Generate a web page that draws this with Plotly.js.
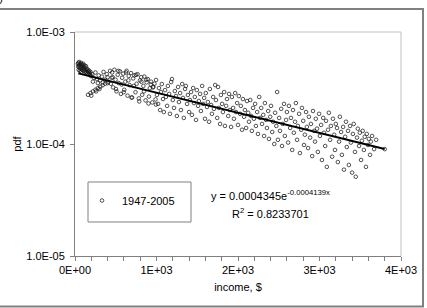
<!DOCTYPE html>
<html><head><meta charset="utf-8">
<script src="https://cdn.plot.ly/plotly-3.0.1.min.js"></script>
<style>html,body{margin:0;padding:0;background:#fff}</style>
</head><body><div id="chart" style="width:427px;height:308px"></div>
<script>
// ---- data (income in $, pdf) ----
const incomeA = [35,40,42,45,48,50,55,58,60,65,68,70,75,78,80,85,88,90,95,100,105,108,112,115,120,125,130,135,140,145,150,155,160,165,170,175,180,185,190,195];
const pdfA = [5.2e-4,4.9e-4,5.3e-4,4.6e-4,5.0e-4,5.4e-4,4.8e-4,5.1e-4,4.5e-4,5.2e-4,4.7e-4,4.95e-4,5.3e-4,4.4e-4,4.85e-4,5.1e-4,4.6e-4,5.0e-4,4.75e-4,5.2e-4,4.5e-4,4.9e-4,4.65e-4,5.05e-4,4.4e-4,4.8e-4,4.55e-4,4.95e-4,4.35e-4,4.7e-4,4.5e-4,4.25e-4,4.6e-4,4.4e-4,4.2e-4,4.5e-4,4.3e-4,4.15e-4,4.4e-4,4.05e-4];

const incomeB1 = [160,190,220,250,280,310,340,370,200,260,300,400,210,230,250,270,290,310,330,350,370,390,410,430,450,220,280,340,400,440];
const pdfB1 = [2.75e-4,2.85e-4,2.95e-4,3.05e-4,3.15e-4,3.25e-4,3.35e-4,3.45e-4,2.7e-4,2.95e-4,3.1e-4,3.5e-4,4.2e-4,3.9e-4,4.35e-4,3.8e-4,4.1e-4,3.7e-4,4.0e-4,4.4e-4,3.75e-4,4.2e-4,3.6e-4,4.5e-4,3.9e-4,3.6e-4,3.5e-4,3.55e-4,3.95e-4,3.45e-4];

const incomeB2 = [455,468,483,497,509,524,536,551,563,578,592,604,617,633,645,659,671,688,701,714,729,742,756,768,783,797,812,824,839,851,866,879,893,907,918,934,948,961,975,988,462,503,531,572,598,626,655,693,721,749,788,815,846,873,902,930,957,993];
const pdfB2 = [4.35e-4,3.2e-4,4.6e-4,3.75e-4,2.95e-4,4.15e-4,3.5e-4,4.45e-4,2.8e-4,3.9e-4,4.25e-4,3.05e-4,3.6e-4,4.5e-4,2.7e-4,4.05e-4,3.35e-4,4.3e-4,2.6e-4,3.85e-4,4.1e-4,2.9e-4,3.45e-4,4.2e-4,2.55e-4,3.7e-4,3.95e-4,2.75e-4,3.3e-4,4.0e-4,2.45e-4,3.55e-4,3.8e-4,2.65e-4,3.15e-4,3.6e-4,2.35e-4,3.25e-4,3.45e-4,2.5e-4,3.95e-4,3.1e-4,4.5e-4,3.4e-4,2.9e-4,4.35e-4,3.7e-4,2.6e-4,3.3e-4,4.15e-4,2.4e-4,3.6e-4,2.95e-4,3.75e-4,2.3e-4,3.4e-4,3.2e-4,2.25e-4];

const incomeC = [995,1005,1020,1030,1045,1055,1065,1080,1090,1105,1115,1130,1140,1155,1165,1180,1190,1200,1215,1225,1240,1250,1265,1275,1290,1300,1315,1325,1335,1350,1360,1375,1385,1400,1410,1425,1435,1450,1460,1470,1485,1495,1510,1520,1535,1545,1560,1570,1585,1595,1605,1620,1630,1645,1655,1670,1680,1695,1705,1720,1730,1745,1755,1765,1780,1790,1805,1815,1830,1840,1855,1865,1880,1890,1900,1915,1925,1940,1950,1965,1975,1990,2000,2010,2025,2035,2050,2060,2075,2085,2100,2110,2125,2135,2150,2160,2170,2185,2195,2210,2220,2235,2245,2260,2270,2285,2295,2310,2320,2330,2345,2355,2370,2380,2395,2405,2420,2430,2445,2455,2470,2480,2490,2505,2515,2530,2540,2550,2565,2575,2590,2600];
const pdfC = [3.73e-4,2.74e-4,2.28e-4,3.16e-4,2.01e-4,2.91e-4,3.43e-4,2.52e-4,1.93e-4,3.03e-4,2.63e-4,2.19e-4,3.30e-4,2.80e-4,1.86e-4,3.58e-4,3.80e-4,2.47e-4,2.10e-4,2.97e-4,2.68e-4,1.78e-4,3.23e-4,2.37e-4,2.85e-4,2.01e-4,3.43e-4,2.58e-4,1.71e-4,3.10e-4,3.30e-4,2.28e-4,2.74e-4,1.93e-4,2.47e-4,2.91e-4,1.82e-4,3.16e-4,2.32e-4,2.63e-4,1.64e-4,3.03e-4,2.19e-4,2.42e-4,2.80e-4,1.97e-4,3.30e-4,2.28e-4,2.58e-4,1.68e-4,2.85e-4,2.14e-4,2.37e-4,1.58e-4,3.10e-4,2.23e-4,1.86e-4,2.63e-4,2.06e-4,3.36e-4,2.47e-4,1.71e-4,3.23e-4,2.10e-4,1.51e-4,2.74e-4,2.28e-4,1.93e-4,2.91e-4,1.45e-4,2.19e-4,2.52e-4,1.78e-4,2.80e-4,2.01e-4,1.42e-4,2.63e-4,2.10e-4,1.68e-4,2.85e-4,1.93e-4,2.32e-4,1.48e-4,2.68e-4,1.86e-4,2.19e-4,1.34e-4,2.52e-4,1.75e-4,2.01e-4,1.39e-4,2.42e-4,1.90e-4,1.58e-4,2.47e-4,1.78e-4,1.31e-4,2.10e-4,1.68e-4,2.28e-4,1.45e-4,1.93e-4,1.23e-4,2.63e-4,1.71e-4,2.10e-4,1.51e-4,1.82e-4,1.18e-4,2.32e-4,1.64e-4,1.39e-4,1.97e-4,1.11e-4,1.75e-4,2.19e-4,1.28e-4,1.58e-4,1.00e-4,1.90e-4,1.45e-4,2.91e-4,1.09e-4,1.71e-4,1.31e-4,2.06e-4,0.96e-4,1.51e-4,2.28e-4,1.18e-4,1.64e-4,1.93e-4];

const incomeD = [2615,2625,2640,2650,2665,2675,2685,2700,2710,2725,2735,2750,2760,2775,2785,2800,2810,2820,2835,2845,2860,2870,2885,2895,2910,2920,2935,2945,2955,2970,2980,2995,3005,3020,3030,3045,3055,3070,3080,3090,3105,3115,3130,3140,3155,3165,3180,3190,3200,3215,3225,3240,3250,3265,3275,3290,3300,3315,3325,3335,3350,3360,3375,3385,3400,3410,3420,3435,3445,3460,3470,3485,3495,3510,3520,3530,3545,3555,3570,3580,3595,3605,3620,3630,3645,3670,3695,3800];
const pdfD = [1.03e-4,2.19e-4,1.39e-4,1.71e-4,0.885e-4,2.01e-4,1.26e-4,1.58e-4,2.32e-4,1.09e-4,1.45e-4,1.86e-4,0.83e-4,1.34e-4,2.10e-4,1.61e-4,0.98e-4,1.21e-4,1.93e-4,1.42e-4,0.92e-4,1.75e-4,1.14e-4,1.51e-4,0.78e-4,1.97e-4,1.31e-4,1.05e-4,1.68e-4,1.37e-4,0.85e-4,1.86e-4,1.18e-4,1.48e-4,0.72e-4,1.71e-4,1.26e-4,0.96e-4,1.61e-4,0.625e-4,1.34e-4,1.90e-4,1.09e-4,1.45e-4,0.77e-4,1.68e-4,1.21e-4,0.885e-4,1.51e-4,1.39e-4,0.69e-4,1.05e-4,1.75e-4,1.28e-4,0.80e-4,1.42e-4,0.59e-4,1.16e-4,1.58e-4,0.94e-4,1.31e-4,0.65e-4,1.45e-4,1.03e-4,0.555e-4,1.23e-4,1.51e-4,0.85e-4,0.51e-4,1.14e-4,1.37e-4,0.96e-4,1.26e-4,0.72e-4,1.07e-4,1.31e-4,0.885e-4,1.16e-4,0.625e-4,1.23e-4,0.98e-4,1.11e-4,0.80e-4,1.05e-4,1.18e-4,0.90e-4,1.09e-4,0.90e-4];

// exponential trendline endpoints (y = 0.0004345e^-0.0004139x)
const trendIncome = [40, 3800];
const trendPdf = [4.27e-4, 9.02e-5];

const seriesName = '1947-2005';
const eqText = 'y = 0.0004345e<sup>-0.0004139x</sup>';
const r2Text = 'R<sup>2</sup> = 0.8233701';
const cornerText = '(y)';
const xTickVals = [0,1000,2000,3000,4000];
const xTickText = ['0E+00','1E+03','2E+03','3E+03','4E+03'];
const yTickVals = [1e-5,1e-4,1e-3];
const yTickText = ['1.0E-05','1.0E-04','1.0E-03'];

const income = [].concat(incomeA, incomeB1, incomeB2, incomeC, incomeD);
const pdf = [].concat(pdfA, pdfB1, pdfB2, pdfC, pdfD);

const L=75, R=401, T=32, B=256;
const px = v => (v - L) / (R - L);
const py = v => 1 - (v - T) / (B - T);

const traces = [
  {x: income, y: pdf, type:'scatter', mode:'markers', name: seriesName,
   marker:{symbol:'circle-open', size:3.6, color:'#1a1a1a', line:{width:0.75}}},
  {x: trendIncome, y: trendPdf, type:'scatter', mode:'lines', showlegend:false,
   line:{color:'#000', width:2}}
];

const grey='#808080';
const layout = {
  width:427, height:308,
  margin:{l:L, r:427-R, t:T, b:308-B},
  paper_bgcolor:'#fff', plot_bgcolor:'#fff',
  font:{family:'"Liberation Sans", Arial, sans-serif', size:11, color:'#000'},
  showlegend:true,
  legend:{x:px(82), y:py(186), xanchor:'left', yanchor:'top', bgcolor:'rgba(0,0,0,0)', borderwidth:0, font:{size:11}},
  xaxis:{range:[0,4000], tickmode:'array', tickvals:xTickVals, ticktext:xTickText,
    ticks:'outside', ticklen:4, tickcolor:grey, showline:true, linecolor:grey, linewidth:1,
    showgrid:false, zeroline:false,
    minor:{tickmode:'linear', tick0:0, dtick:200, ticks:'outside', ticklen:4, tickcolor:grey, showgrid:false},
    title:{text:'income, $', standoff:8, font:{size:11}}},
  yaxis:{type:'log', range:[-5,-3], tickmode:'array', tickvals:yTickVals, ticktext:yTickText,
    ticks:'outside', ticklen:4, tickcolor:grey, showline:true, linecolor:grey, linewidth:1,
    showgrid:false, zeroline:false, ticklabelstandoff:3,
    title:{text:'pdf', standoff:2, font:{size:11}}},
  shapes:[
    {type:'line', xref:'paper', yref:'paper', x0:0, x1:1, y0:1, y1:1, line:{color:'#c0c0c0', width:1}},
    {type:'line', xref:'paper', yref:'paper', x0:1, x1:1, y0:0, y1:1, line:{color:'#c0c0c0', width:1}},
    {type:'rect', xref:'paper', yref:'paper', x0:px(88), x1:px(191), y0:py(222), y1:py(182), line:{color:grey, width:1}},
    {type:'rect', xref:'paper', yref:'paper', x0:px(-3), x1:px(423), y0:py(306.5), y1:py(9), line:{color:grey, width:2}}
  ],
  annotations:[
    {xref:'paper', yref:'paper', x:px(209), y:py(195), xanchor:'left', yanchor:'middle', text:eqText, showarrow:false, font:{size:11}},
    {xref:'paper', yref:'paper', x:px(230), y:py(213), xanchor:'left', yanchor:'middle', text:r2Text, showarrow:false, font:{size:11}},
    {xref:'paper', yref:'paper', x:px(5), y:py(-2), xanchor:'right', yanchor:'middle', text:cornerText, showarrow:false, font:{size:11}}
  ]
};
Plotly.newPlot('chart', traces, layout, {displayModeBar:false, staticPlot:true});
</script></body></html>
